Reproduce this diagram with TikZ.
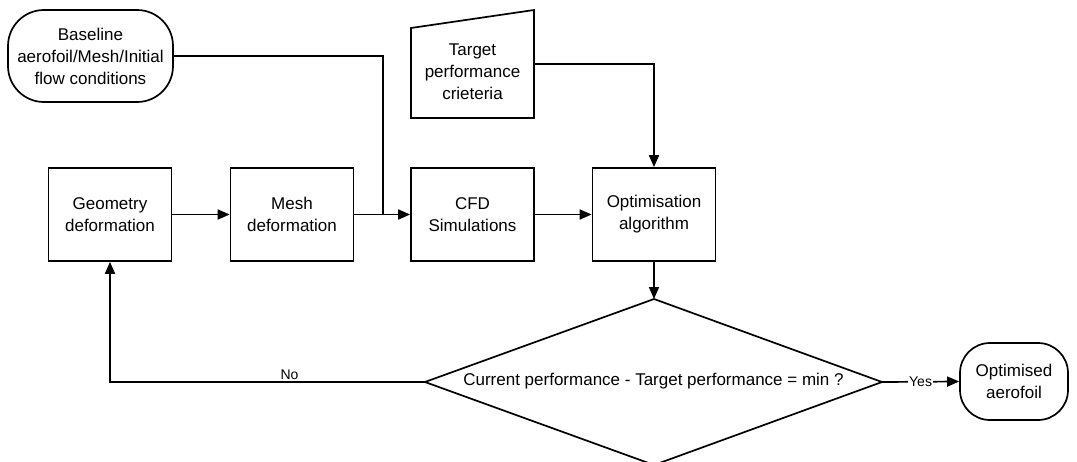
\documentclass[tikz,border=0pt]{standalone}
\usepackage{fontspec}
\setmainfont{Liberation Sans}
\usetikzlibrary{arrows.meta}
\tikzset{
  lw/.style={line width=1.7pt},
  txt/.style={align=center, font=\fontsize{17}{22}\selectfont, inner sep=0pt},
  proc/.style={txt, draw, lw, minimum width=123pt, minimum height=93pt},
  term/.style={txt, draw, lw},
  arr/.style={lw, -{Triangle[length=12pt,width=10pt]}},
  link/.style={lw},
  lbl/.style={font=\fontsize{14}{16}\selectfont, inner sep=1pt},
}
\begin{document}
\begin{tikzpicture}[x=1pt, y=-1pt]
\useasboundingbox (0,0) rectangle (1077,461);

% start terminal
\node[term, rounded corners=36pt, minimum width=165pt, minimum height=92pt] (base) at (90.5,56)
  {Baseline\\aerofoil/Mesh/Initial\\flow conditions};

% manual input: target criteria
\draw[lw] (411,28) -- (534,10) -- (534,118) -- (411,118) -- cycle;
\node[txt] (tgt) at (472.5,72) {Target\\performance\\crieteria};
\coordinate (tgtout) at (534,64);

% process boxes
\node[proc] (geo) at (110,214.5) {Geometry\\deformation};
\node[proc] (mesh) at (292,214.5) {Mesh\\deformation};
\node[proc] (cfd) at (472.5,214.5) {CFD\\Simulations};
\node[proc] (opt) at (654,214.5) {Optimisation\\algorithm};

% decision
\coordinate (dtop) at (654,299);
\coordinate (dleft) at (425,382);
\coordinate (dright) at (882,382);
\coordinate (dbot) at (654,465);
\draw[lw] (dtop) -- (dright) -- (dbot) -- (dleft) -- cycle;
\node[txt] (dec) at (653.5,381) {Current performance - Target performance = min ?};

% end terminal
\node[term, rounded corners=30pt, minimum width=108pt, minimum height=77pt] (end) at (1014,381.5)
  {Optimised\\aerofoil};

% connectors
\coordinate (join) at (383,214.5);
\draw[arr] (geo) -- (mesh);
\draw[arr] (mesh) -- (cfd);
\draw[arr] (cfd) -- (opt);
\draw[link] (base.east) -| (join);
\draw[arr] (tgtout) -| (opt.north);
\draw[arr] (opt.south) -- (dtop);
\draw[arr] (dleft) -| node[lbl, pos=0.215, above=1pt] {No} (geo.south);
\draw[arr] (dright) -- node[lbl, pos=0.5, fill=white] {Yes} (end.west);
\end{tikzpicture}
\end{document}
